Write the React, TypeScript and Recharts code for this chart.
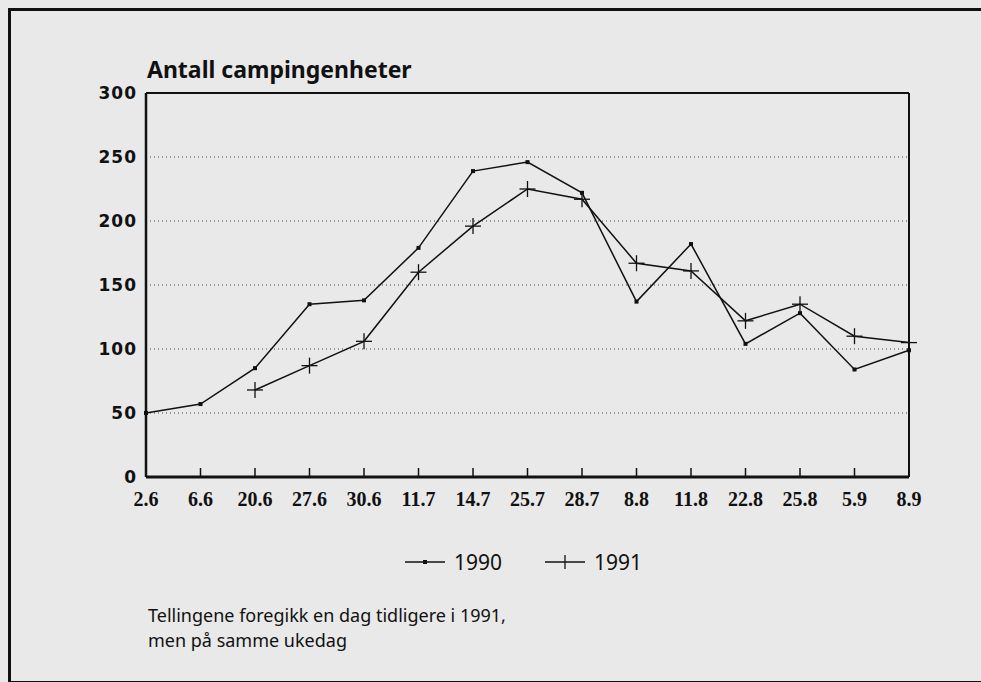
import React from 'react';
import { LineChart, Line, XAxis, YAxis, CartesianGrid, ReferenceLine } from 'recharts';

const categories = ['2.6', '6.6', '20.6', '27.6', '30.6', '11.7', '14.7', '25.7', '28.7', '8.8', '11.8', '22.8', '25.8', '5.9', '8.9'];
const values1990 = [50, 57, 85, 135, 138, 179, 239, 246, 222, 137, 182, 104, 128, 84, 99];
const values1991: (number | null)[] = [null, null, 68, 87, 106, 160, 196, 225, 217, 167, 161, 122, 135, 110, 105];
const yTicks = [0, 50, 100, 150, 200, 250, 300];
const seriesNames = ['1990', '1991'];
const title = 'Antall campingenheter';
const footnote = ['Tellingene foregikk en dag tidligere i 1991,', 'men på samme ukedag'];

const data = categories.map((c, i) => ({ date: c, y1990: values1990[i], y1991: values1991[i] }));

const DotMarker = (props: any) => {
  const { cx, cy, value } = props;
  if (value == null || cx == null || cy == null) return <g />;
  return <rect x={cx - 2} y={cy - 2} width={4} height={4} fill="#111" />;
};

const PlusMarker = (props: any) => {
  const { cx, cy, value } = props;
  if (value == null || cx == null || cy == null) return <g />;
  return (
    <g stroke="#111" strokeWidth={1.3}>
      <line x1={cx - 8} x2={cx + 8} y1={cy} y2={cy} />
      <line x1={cx} x2={cx} y1={cy - 8} y2={cy + 8} />
    </g>
  );
};

const XTick = (props: any) => {
  const { x, y, payload } = props;
  return (
    <g>
      <line x1={x} x2={x} y1={y} y2={y - 9} stroke="#111" strokeWidth={1.5} />
      <text x={x} y={y + 29} textAnchor="middle" fontFamily="'Liberation Serif', serif" fontWeight="bold" fontSize={20} fill="#111">
        {payload.value}
      </text>
    </g>
  );
};

const YTick = (props: any) => {
  const { x, y, payload } = props;
  return (
    <text x={x} y={y + 6} textAnchor="end" fontFamily="'DejaVu Sans', sans-serif" fontWeight="bold" fontSize={17} letterSpacing={1} fill="#111">
      {payload.value}
    </text>
  );
};

const LegendItem = ({ name, plus }: { name: string; plus: boolean }) => (
  <div style={{ display: 'flex', alignItems: 'center', marginRight: 42 }}>
    <svg width={42} height={16} style={{ marginRight: 8 }}>
      <line x1={1} x2={41} y1={8} y2={8} stroke="#111" strokeWidth={1.3} />
      {plus ? (
        <line x1={21} x2={21} y1={1} y2={15} stroke="#111" strokeWidth={1.3} />
      ) : (
        <rect x={19} y={6} width={4} height={4} fill="#111" />
      )}
    </svg>
    <span style={{ fontFamily: "'Noto Sans', sans-serif", fontSize: 21, color: '#111' }}>{name}</span>
  </div>
);

export default function App() {
  return (
    <div style={{ position: 'absolute', left: 0, top: 0, width: 981, height: 682, background: '#e9e9e9', overflow: 'hidden' }}>
      <div style={{ position: 'absolute', left: 8, top: 8, width: 990, height: 670, borderLeft: '3px solid #111', borderTop: '3px solid #111', borderBottom: '3px solid #111' }} />
      <div style={{ position: 'absolute', left: 147, top: 54, fontFamily: "'Noto Sans', sans-serif", fontWeight: 'bold', fontSize: 23, color: '#111', lineHeight: '30px' }}>
        {title}
      </div>
      <div style={{ position: 'absolute', left: 0, top: 0 }}>
        <LineChart width={981} height={682} data={data} margin={{ top: 93, right: 72, bottom: 175, left: 86 }}>
          <CartesianGrid horizontal vertical={false} stroke="#444" strokeDasharray="1 3" />
          <XAxis dataKey="date" height={30} tickSize={0} tickMargin={0} tick={<XTick />} axisLine={{ stroke: '#111', strokeWidth: 3 }} tickLine={false} interval={0} padding={{ left: 0, right: 0 }} />
          <YAxis width={60} domain={[0, 300]} ticks={yTicks} tickSize={0} tickMargin={9} tick={<YTick />} axisLine={{ stroke: '#111', strokeWidth: 2.5 }} tickLine={false} />
          <ReferenceLine y={300} stroke="#111" strokeWidth={2} />
          <ReferenceLine x="8.9" stroke="#111" strokeWidth={2} />
          <Line type="linear" dataKey="y1990" name={seriesNames[0]} stroke="#111" strokeWidth={1.5} dot={<DotMarker />} activeDot={false} isAnimationActive={false} />
          <Line type="linear" dataKey="y1991" name={seriesNames[1]} stroke="#111" strokeWidth={1.5} dot={<PlusMarker />} activeDot={false} isAnimationActive={false} connectNulls={false} />
        </LineChart>
      </div>
      <div style={{ position: 'absolute', left: 404, top: 548, display: 'flex' }}>
        <LegendItem name={seriesNames[0]} plus={false} />
        <LegendItem name={seriesNames[1]} plus={true} />
      </div>
      <div style={{ position: 'absolute', left: 148, top: 603, fontFamily: "'Noto Sans', sans-serif", fontSize: 18, color: '#111', lineHeight: '25px' }}>
        {footnote.map((l, i) => (
          <div key={i}>{l}</div>
        ))}
      </div>
    </div>
  );
}
